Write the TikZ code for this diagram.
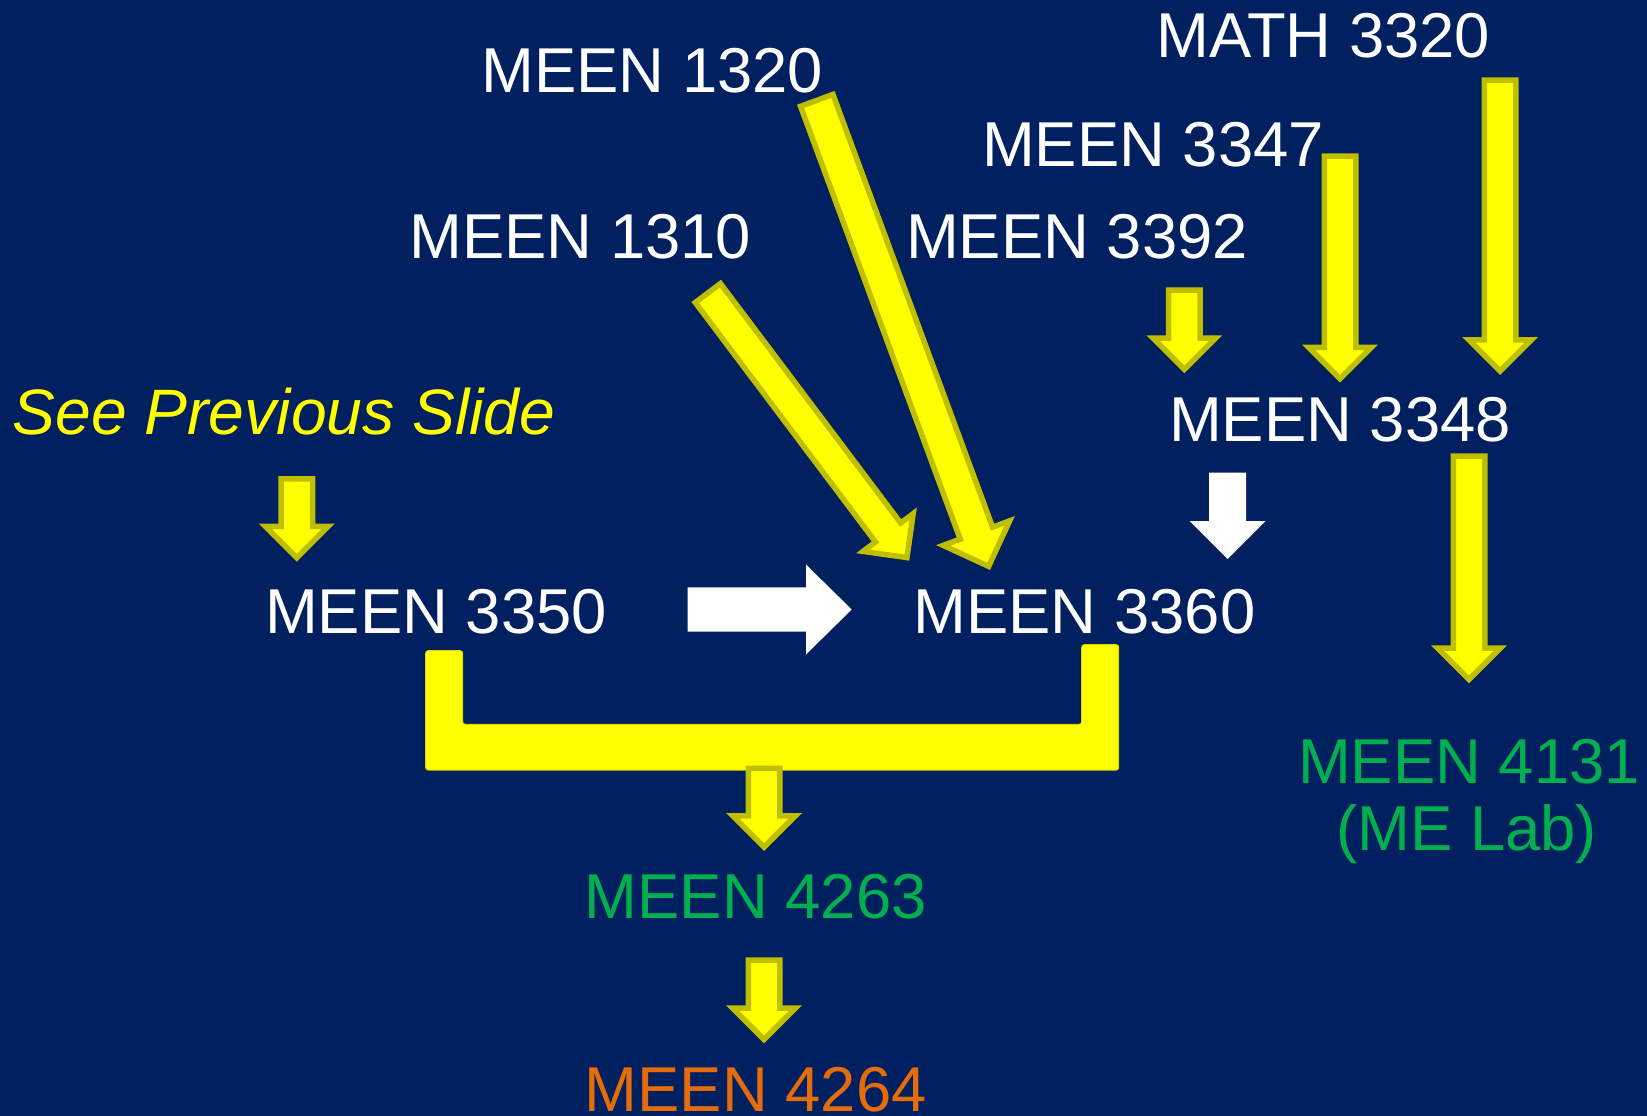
\documentclass[tikz,border=0pt]{standalone}
\usepackage{fontspec}
\setmainfont{Liberation Sans}
\usetikzlibrary{calc}
\definecolor{navy}{RGB}{0,32,96}
\definecolor{ylw}{RGB}{255,255,0}
\definecolor{ydark}{RGB}{191,191,0}
\definecolor{grn}{RGB}{0,176,80}
\definecolor{org}{RGB}{228,108,10}
% block arrow: [style]{start}{tip}{shaft half width}{head half width}{head length}
\newcommand\blockarrow[6][]{%
  \coordinate (#2-hb) at ($(#3)!#6pt!(#2)$);
  \path[#1] ($(#2)!#4pt!90:(#3)$) -- ($(#2-hb)!#4pt!90:(#3)$) -- ($(#2-hb)!#5pt!90:(#3)$) -- (#3)
    -- ($(#2-hb)!#5pt!-90:(#3)$) -- ($(#2-hb)!#4pt!-90:(#3)$) -- ($(#2)!#4pt!-90:(#3)$) -- cycle;}
\begin{document}
\begin{tikzpicture}[x=1pt,y=-1pt,
  crs/.style={anchor=base, inner sep=0pt, text=white, font=\fontsize{63.4}{70}\selectfont},
  yarrow/.style={fill=ylw, draw=ydark, line width=5.5pt},
  warrow/.style={fill=white},
  bracket/.style={fill=ylw, draw=ydark!60!ylw, line width=1pt, rounded corners=2.5pt}]
\useasboundingbox (0,0) rectangle (1647,1116);
\fill[navy] (0,0) rectangle (1647,1116);

% course labels
\node[crs] (math3320) at (1323.5,57.8) {MATH 3320};
\node[crs] (m1320) at (652.3,92.5) {MEEN 1320};
\node[crs] (m3347) at (1153,166) {MEEN 3347};
\node[crs] (m1310) at (580.4,258.4) {MEEN 1310};
\node[crs] (m3392) at (1077,258.4) {MEEN 3392};
\node[crs, anchor=base west, text=ylw, font=\fontsize{64.2}{70}\selectfont\itshape] (prev) at (12.6,434) {See Previous Slide};
\node[crs] (m3348) at (1340,441) {MEEN 3348};
\node[crs] (m3350) at (436,633.4) {MEEN 3350};
\node[crs] (m3360) at (1084.5,633.4) {MEEN 3360};
\node[crs, text=grn] (m4131) at (1469,783) {MEEN 4131};
\node[crs, text=grn] (melab) at (1466.7,850) {(ME Lab)};
\node[crs, text=grn] (m4263) at (755.8,918.7) {MEEN 4263};
\node[crs, text=org] (m4264) at (755.8,1111) {MEEN 4264};

% bracket joining MEEN 3350 and MEEN 3360
\coordinate (bl) at (425.7,650.7);
\coordinate (br) at (1118.7,644.7);
\path[bracket] (bl) -- ++(37,0) |- (1081.7,724.3) |- (br) |- (425.7,770) -- cycle;

% arrow end points
\coordinate (aprev) at (296.8,478.75);  \coordinate (aprev2) at (296.8,557.8);
\coordinate (a3392) at (1184.3,290.05); \coordinate (a3392b) at (1184.3,369.4);
\coordinate (a3347) at (1340,156.05);   \coordinate (a3347b) at (1340,378.8);
\coordinate (amath) at (1500,80.05);    \coordinate (amathb) at (1500,371.1);
\coordinate (a3348) at (1469,456.05);   \coordinate (a3348b) at (1469,679.4);
\coordinate (abr) at (764,768.45);      \coordinate (abrb) at (764,847.1);
\coordinate (a4263) at (764,960.05);    \coordinate (a4263b) at (764,1039.4);
\coordinate (a1310) at (707.85,293.0);  \coordinate (a1310b) at (906.96,557.58);
\coordinate (a1320) at (816.75,100.38); \coordinate (a1320b) at (988.65,566.34);
\coordinate (w3348) at (1227.5,472.7);  \coordinate (w3348b) at (1227.5,559);
\coordinate (w3350) at (687.7,609.5);   \coordinate (w3350b) at (851.7,609.5);

\blockarrow[yarrow]{aprev}{aprev2}{15.75}{31.35}{31.35}
\blockarrow[yarrow]{a3392}{a3392b}{15.75}{31.35}{31.35}
\blockarrow[yarrow]{a3347}{a3347b}{15.75}{31.35}{31.35}
\blockarrow[yarrow]{amath}{amathb}{15.75}{31.35}{31.35}
\blockarrow[yarrow]{a3348}{a3348b}{15.75}{31.35}{31.35}
\blockarrow[yarrow]{abr}{abrb}{15.75}{31.35}{31.35}
\blockarrow[yarrow]{a4263}{a4263b}{15.75}{31.35}{31.35}
\blockarrow[yarrow]{a1310}{a1310b}{15.75}{31.35}{31.35}
\blockarrow[yarrow]{a1320}{a1320b}{17.25}{35.35}{35.35}
\blockarrow[warrow]{w3348}{w3348b}{18.5}{38}{38}
\blockarrow[warrow]{w3350}{w3350b}{22.2}{45}{45.7}
\end{tikzpicture}
\end{document}
